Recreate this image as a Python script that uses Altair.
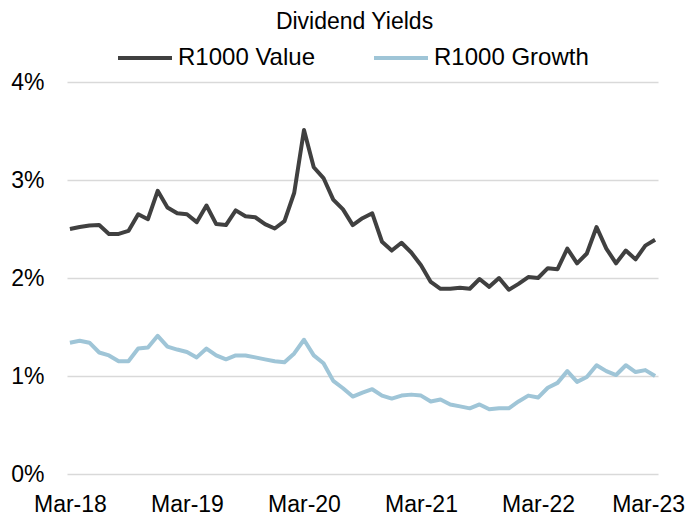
import json
import altair as alt
import pandas as pd

tick_labels = ["Mar-18", "Mar-19", "Mar-20", "Mar-21", "Mar-22", "Mar-23"]
series_names = ["R1000 Value", "R1000 Growth"]
value_yield = [2.50, 2.52, 2.535, 2.54, 2.45, 2.45, 2.48, 2.65, 2.60, 2.89,
               2.72, 2.66, 2.65, 2.57, 2.74, 2.55, 2.54, 2.69, 2.63, 2.62,
               2.55, 2.505, 2.58, 2.87, 3.51, 3.13, 3.02, 2.80, 2.70, 2.54,
               2.61, 2.66, 2.37, 2.28, 2.36, 2.26, 2.13, 1.96, 1.89, 1.89,
               1.90, 1.89, 1.99, 1.91, 2.00, 1.88, 1.94, 2.01, 2.00, 2.10,
               2.09, 2.30, 2.15, 2.25, 2.52, 2.30, 2.15, 2.28, 2.19, 2.33,
               2.39]
growth_yield = [1.34, 1.36, 1.34, 1.24, 1.21, 1.15, 1.15, 1.28, 1.29, 1.41,
                1.30, 1.27, 1.245, 1.19, 1.28, 1.21, 1.17, 1.21, 1.21, 1.19,
                1.17, 1.15, 1.14, 1.23, 1.37, 1.21, 1.13, 0.95, 0.875, 0.79,
                0.83, 0.865, 0.80, 0.77, 0.80, 0.81, 0.80, 0.74, 0.76, 0.71,
                0.69, 0.67, 0.71, 0.66, 0.67, 0.67, 0.74, 0.80, 0.78, 0.88,
                0.93, 1.05, 0.94, 0.99, 1.11, 1.05, 1.01, 1.11, 1.04, 1.06,
                1.00]
colors = ["#404040", "#9FC5D7"]

rows = []
for i, v in enumerate(value_yield):
    rows.append({"m": i, "series": series_names[0], "y": v})
for i, v in enumerate(growth_yield):
    rows.append({"m": i, "series": series_names[1], "y": v})
df = pd.DataFrame(rows)

FONT = "Liberation Sans"
label_arr = json.dumps(tick_labels)

chart = alt.Chart(df).mark_line(strokeWidth=4, strokeJoin="round").encode(
    x=alt.X("m:Q",
            scale=alt.Scale(domain=[-0.3, 60.3], nice=False, zero=False),
            axis=alt.Axis(values=[0, 12, 24, 36, 48, 60],
                          labelExpr=f"{label_arr}[round(datum.value/12)]",
                          title=None, grid=False, domain=False, ticks=False,
                          tickSize=0, labelPadding=19, labelFontSize=23,
                          labelFont=FONT, labelColor="#000000",
                          labelOffset={"condition": {"test": "datum.value == 60", "value": -7}, "value": 0})),
    y=alt.Y("y:Q",
            scale=alt.Scale(domain=[0, 4], nice=False),
            axis=alt.Axis(values=[0, 1, 2, 3, 4], labelExpr="datum.value + '%'",
                          title=None, grid=True, gridColor="#D9D9D9", gridWidth=1.3,
                          domain=False, ticks=False, tickSize=0, labelPadding=23,
                          labelFontSize=23, labelFont=FONT, labelColor="#000000")),
    color=alt.Color("series:N",
                    scale=alt.Scale(domain=series_names, range=colors),
                    legend=alt.Legend(title=None, orient="none", direction="horizontal",
                                      legendX=49, legendY=-53,
                                      symbolType="stroke", symbolSize=2916,
                                      symbolStrokeWidth=4, labelOffset=4,
                                      columnPadding=51, labelFontSize=24,
                                      labelFont=FONT, labelColor="#000000")),
).properties(
    width=591,
    height=392,
    title=alt.TitleParams("Dividend Yields", font=FONT, fontSize=23,
                          fontWeight="normal", color="#000000",
                          anchor="middle", frame="group", dx=-8, dy=9),
    autosize=alt.AutoSizeParams(type="none"),
    padding={"left": 59, "top": 74, "right": 28, "bottom": 42},
).configure_view(stroke=None)

chart.save("out.html", embed_options={"renderer": "svg", "actions": False})
